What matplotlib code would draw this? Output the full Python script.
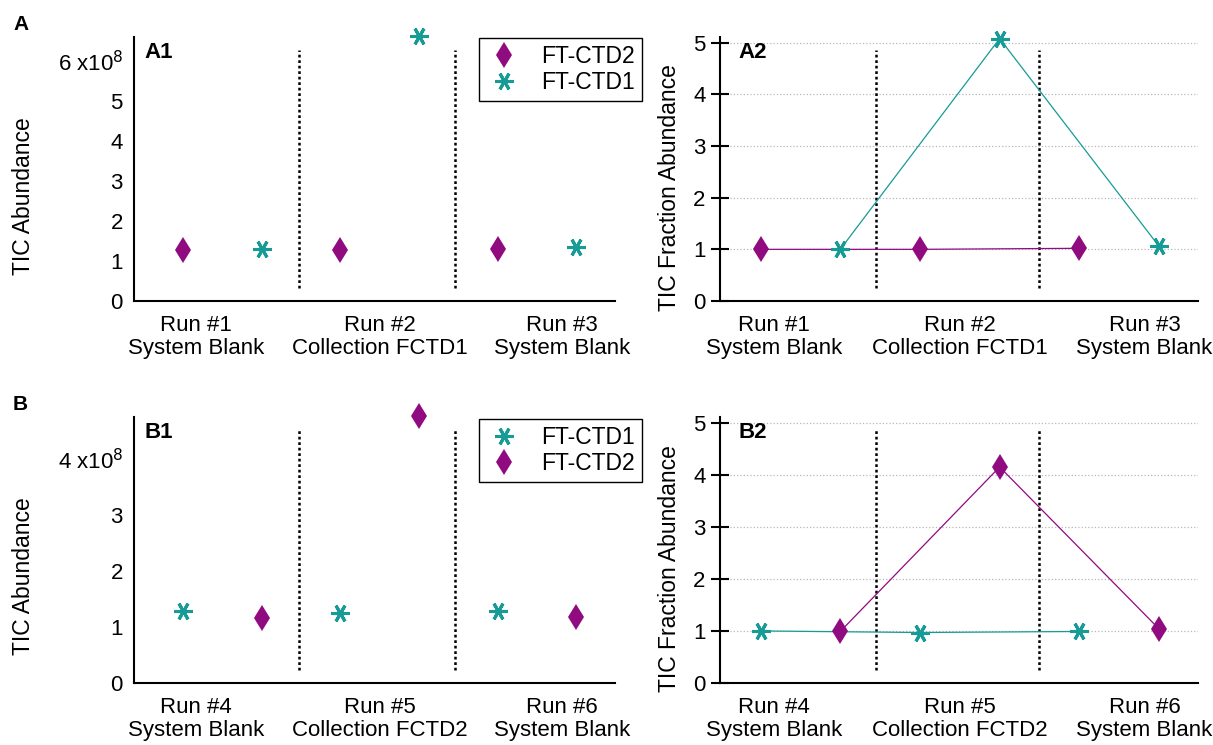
import matplotlib
matplotlib.use("Agg")
import matplotlib.pyplot as plt

plt.rcParams['font.family'] = ['Liberation Sans', 'DejaVu Sans']

# --- data ---
run_labels_a = ["Run #1\nSystem Blank", "Run #2\nCollection FCTD1", "Run #3\nSystem Blank"]
run_labels_b = ["Run #4\nSystem Blank", "Run #5\nCollection FCTD2", "Run #6\nSystem Blank"]

a_x_ctd2 = [1, 3, 5]
a_x_ctd1 = [2, 4, 6]
a1_ctd2 = [1.28e8, 1.28e8, 1.31e8]
a1_ctd1 = [1.30e8, 6.62e8, 1.36e8]
a2_ctd2 = [1.00, 1.00, 1.02]
a2_ctd1 = [1.00, 5.08, 1.06]

b_x_ctd1 = [1, 3, 5]
b_x_ctd2 = [2, 4, 6]
b1_ctd1 = [1.29e8, 1.26e8, 1.29e8]
b1_ctd2 = [1.16e8, 4.78e8, 1.19e8]
b2_ctd1 = [1.00, 0.97, 0.99]
b2_ctd2 = [0.99, 4.15, 1.04]

MAG = '#900a80'
TEAL = '#169b96'
W, H = 1213, 745

diamond = dict(marker='d', markersize=13, color=MAG, markeredgewidth=0)
star = dict(marker=(6, 2, 90), markersize=13, color=TEAL, markeredgewidth=2.2)


def rect(l, r, t, b):
    return [l / W, 1 - b / H, (r - l) / W, (b - t) / H]


def base(ax, xlim, dash_x, labels):
    for s in ['top', 'right']:
        ax.spines[s].set_visible(False)
    for s in ['left', 'bottom']:
        ax.spines[s].set_linewidth(1.5)
    ax.set_xlim(*xlim)
    for d in dash_x:
        ax.axvline(d, ymin=0.05, ymax=0.95, color='black', lw=1.8,
                   linestyle=(0, (1.1, 1.1)))
    ax.set_xticks([1.17, 3.5, 5.82])
    ax.set_xticklabels(labels, fontsize=16, linespacing=1.12)
    ax.tick_params(axis='x', length=0, pad=10)


def abundance(ax, top, ticks, labels, name):
    ax.set_ylim(0, top)
    ax.set_yticks(ticks)
    ax.set_yticklabels(labels, fontsize=16)
    ax.tick_params(axis='y', length=0, pad=8)
    ax.text(0.021, 0.943, name, transform=ax.transAxes, fontsize=16,
            fontweight='bold', va='center', ha='left')


def fraction(ax, name):
    ax.set_ylim(0, 5.11)
    ax.set_yticks([0, 1, 2, 3, 4, 5])
    ax.tick_params(axis='y', direction='inout', length=13, width=1.5,
                   labelsize=16, pad=4)
    ax.yaxis.grid(True, linestyle=':', color='#b8b8b8', lw=0.9)
    ax.set_axisbelow(True)
    ax.text(0.038, 0.943, name, transform=ax.transAxes, fontsize=16,
            fontweight='bold', va='center', ha='left')


def legend(ax, top):
    leg = ax.legend(loc='upper left', bbox_to_anchor=(479 / W, 1 - top / H),
                    bbox_transform=fig.transFigure, fontsize=16.5, frameon=True,
                    fancybox=False, edgecolor='black', framealpha=1, borderpad=0.3,
                    handlelength=1.6, handletextpad=0.8, labelspacing=0.15,
                    borderaxespad=0)
    leg.get_frame().set_linewidth(1.0)


fig = plt.figure(figsize=(W / 100, H / 100), dpi=100)

# ---- A1 ----
ax = fig.add_axes(rect(134, 615, 37, 301))
base(ax, (0.38, 6.49), [2.48, 4.46], run_labels_a)
ax.plot(a_x_ctd2, a1_ctd2, linestyle='none', label='FT-CTD2', clip_on=False, **diamond)
ax.plot(a_x_ctd1, a1_ctd1, linestyle='none', label='FT-CTD1', clip_on=False, **star)
abundance(ax, 6.6e8, [0, 1e8, 2e8, 3e8, 4e8, 5e8, 6e8],
          ['0', '1', '2', '3', '4', '5', r'6 x10$^{8}$'], 'A1')
legend(ax, 38)

# ---- A2 ----
ax = fig.add_axes(rect(720, 1198, 37, 301))
base(ax, (0.49, 6.49), [2.45, 4.5], run_labels_a)
ax.plot(a_x_ctd2, a2_ctd2, linestyle='-', lw=0.9, clip_on=False, **diamond)
ax.plot(a_x_ctd1, a2_ctd1, linestyle='-', lw=0.9, clip_on=False, **star)
fraction(ax, 'A2')

# ---- B1 ----
ax = fig.add_axes(rect(134, 615, 417, 683))
base(ax, (0.38, 6.49), [2.48, 4.46], run_labels_b)
ax.plot(b_x_ctd1, b1_ctd1, linestyle='none', label='FT-CTD1', clip_on=False, **star)
ax.plot(b_x_ctd2, b1_ctd2, linestyle='none', label='FT-CTD2', clip_on=False, **diamond)
abundance(ax, 4.76e8, [0, 1e8, 2e8, 3e8, 4e8],
          ['0', '1', '2', '3', r'4 x10$^{8}$'], 'B1')
legend(ax, 419)

# ---- B2 ----
ax = fig.add_axes(rect(720, 1198, 417, 683))
base(ax, (0.49, 6.49), [2.45, 4.5], run_labels_b)
ax.plot(b_x_ctd1, b2_ctd1, linestyle='-', lw=0.9, clip_on=False, **star)
ax.plot(b_x_ctd2, b2_ctd2, linestyle='-', lw=0.9, clip_on=False, **diamond)
fraction(ax, 'B2')

# axis titles and panel letters
fig.text(24 / W, 1 - 196 / H, 'TIC Abundance', rotation=90, fontsize=16.5,
         ha='center', va='center')
fig.text(669 / W, 1 - 188 / H, 'TIC Fraction Abundance', rotation=90, fontsize=16.5,
         ha='center', va='center')
fig.text(24 / W, 1 - 576 / H, 'TIC Abundance', rotation=90, fontsize=16.5,
         ha='center', va='center')
fig.text(669 / W, 1 - 569 / H, 'TIC Fraction Abundance', rotation=90, fontsize=16.5,
         ha='center', va='center')
fig.text(13 / W, 1 - 25 / H, 'A', fontsize=15, fontweight='bold', va='center')
fig.text(13 / W, 1 - 405 / H, 'B', fontsize=15, fontweight='bold', va='center')

fig.savefig('out.png', dpi=100)
